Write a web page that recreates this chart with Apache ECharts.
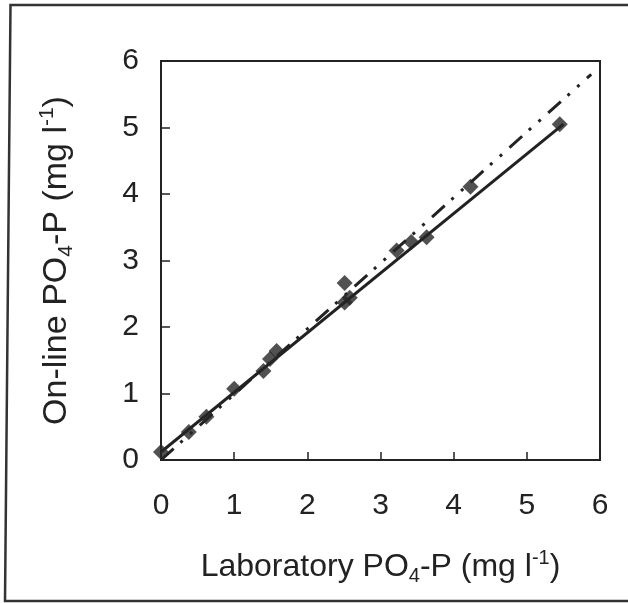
<!DOCTYPE html>
<html>
<head>
<meta charset="utf-8">
<script src="https://cdn.jsdelivr.net/npm/echarts@6/dist/echarts.min.js"></script>
<style>
  html, body { margin: 0; padding: 0; background: #fff; }
  #chart { width: 628px; height: 603px; }
</style>
</head>
<body>
<div id="chart"></div>
<script>
// Laboratory vs on-line phosphate measurements (mg/l)
const labPO4 = [0, 0.38, 0.62, 1.0, 1.40, 1.49, 1.58, 2.51, 2.58, 2.51, 3.22, 3.42, 3.63, 4.23, 5.45];
const onlinePO4 = [0.12, 0.42, 0.65, 1.07, 1.34, 1.52, 1.64, 2.37, 2.44, 2.66, 3.15, 3.28, 3.35, 4.11, 5.05];

// Fitted regression line end points and the dash-dot reference line
const fitLine = [[0, 0.12], [5.5, 5.05]];
const referenceLine = [[0, 0], [5.88, 5.8]];

const tickValues = [0, 1, 2, 3, 4, 5, 6];

const ink = '#222';
const font = 'Liberation Sans, Arial, sans-serif';

function titleRich(size) {
  const small = Math.round(size * 0.62);
  return {
    n: { fontSize: size, fontFamily: font, color: ink, lineHeight: size + 6 },
    sub: { fontSize: small, fontFamily: font, color: ink, lineHeight: small, verticalAlign: 'bottom' },
    sup: { fontSize: small, fontFamily: font, color: ink, lineHeight: small, verticalAlign: 'top' }
  };
}

const points = labPO4.map((x, i) => [x, onlinePO4[i]]);

const chart = echarts.init(document.getElementById('chart'), null, { renderer: 'canvas' });

chart.setOption({
  backgroundColor: '#fff',
  animation: false,
  grid: {
    left: 161, right: 28, top: 61, bottom: 143,
    show: true, borderColor: ink, borderWidth: 2, containLabel: false
  },
  xAxis: {
    type: 'value', min: 0, max: 6, interval: 1,
    name: '{n|Laboratory PO}{sub|4}{n|-P (mg l}{sup|-1}{n|)}',
    nameLocation: 'middle', nameGap: 88,
    nameTextStyle: { rich: titleRich(32) },
    axisLine: { show: true, lineStyle: { color: ink, width: 2 } },
    axisTick: { show: true, inside: true, length: 8, lineStyle: { color: ink, width: 1.5 } },
    axisLabel: {
      margin: 31, fontSize: 30, fontFamily: font, color: ink,
      formatter: v => tickValues.includes(v) ? String(v) : ''
    },
    splitLine: { show: false }
  },
  yAxis: {
    type: 'value', min: 0, max: 6, interval: 1,
    name: '{n|On-line PO}{sub|4}{n|-P (mg l}{sup|-1}{n|)}',
    nameLocation: 'middle', nameGap: 84, nameRotate: 90,
    nameTextStyle: { rich: titleRich(34) },
    axisLine: { show: true, lineStyle: { color: ink, width: 2 } },
    axisTick: { show: true, inside: true, length: 9, lineStyle: { color: ink, width: 1.5 } },
    axisLabel: {
      margin: 22, fontSize: 30, fontFamily: font, color: ink,
      formatter: v => tickValues.includes(v) ? String(v) : ''
    },
    splitLine: { show: false }
  },
  graphic: [{
    type: 'polyline',
    shape: { points: [[700, 5], [10.5, 5], [5, 601], [700, 601]] },
    style: { stroke: '#333', lineWidth: 2.5, fill: null },
    silent: true
  }],
  series: [
    {
      name: 'Reference',
      type: 'line',
      data: referenceLine,
      symbol: 'none',
      lineStyle: { color: ink, width: 3, type: [17, 9, 3, 10, 3, 10] },
      z: 2
    },
    {
      name: 'Regression',
      type: 'line',
      data: fitLine,
      symbol: 'none',
      lineStyle: { color: ink, width: 3 },
      z: 3
    },
    {
      name: 'Samples',
      type: 'scatter',
      data: points,
      symbol: 'diamond',
      symbolSize: 16,
      clip: false,
      itemStyle: { color: '#262626' },
      z: 4
    }
  ]
});
</script>
</body>
</html>
